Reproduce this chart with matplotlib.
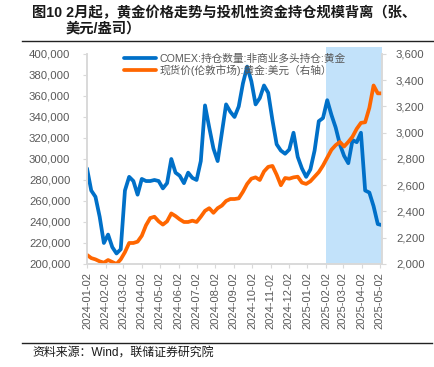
import pandas as pd
import matplotlib
matplotlib.use('Agg')
import matplotlib.pyplot as plt
import matplotlib.dates as mdates

plt.rcParams['font.family'] = ['Liberation Sans', 'Noto Sans CJK SC', 'DejaVu Sans']

# weekly observations, starting Tuesday 2024-01-02
dates = pd.date_range('2024-01-02', periods=71, freq='7D')

# COMEX non-commercial long positions, gold (contracts)
comex_long = [291000, 270000, 264000, 245000, 220000, 228000, 216000, 210000, 214000, 270000,
              283000, 279000, 266000, 281000, 279000, 279000, 280000, 279000, 272000, 277000,
              300000, 287000, 284000, 277000, 287000, 282000, 280000, 298000, 351000, 330000,
              310000, 298000, 325000, 352000, 345000, 340000, 350000, 372000, 388000, 374000,
              352000, 358000, 370000, 363000, 337000, 314000, 308000, 305000, 309000, 325000,
              302000, 291000, 283000, 290000, 308000, 336000, 339000, 356000, 342000, 330000,
              314000, 303000, 296000, 318000, 316000, 325000, 270000, 268000, 255000, 238000,
              237000]

# London spot gold, USD/oz (right axis)
gold_spot = [2069, 2045, 2035, 2020, 2010, 2030, 2015, 2000, 2035, 2090,
             2160, 2160, 2170, 2215, 2295, 2350, 2360, 2325, 2300, 2325,
             2385, 2365, 2340, 2320, 2320, 2330, 2320, 2360, 2405, 2425,
             2390, 2425, 2445, 2480, 2495, 2495, 2500, 2550, 2610, 2650,
             2660, 2640, 2705, 2740, 2747, 2680, 2600, 2655, 2650, 2660,
             2665, 2620, 2610, 2630, 2665, 2700, 2750, 2810, 2870, 2905,
             2930, 2895, 2930, 2970, 3030, 3075, 3080, 3190, 3360, 3300,
             3300]

shade_start = '2025-02-02'

label_comex = 'COMEX:持仓数量:非商业多头持仓:黄金'
label_gold = '现货价(伦敦市场):黄金:美元（右轴）'
title_1 = '图10 2月起，黄金价格走势与投机性资金持仓规模背离（张、'
title_2 = '美元/盎司）'
source = '资料来源：Wind，联储证券研究院'

blue = '#0070C8'
orange = '#FF6600'
grey = '#595959'
spine_c = '#D9D9D9'

fig = plt.figure(figsize=(4.34, 3.67), dpi=100)
ax = fig.add_axes([0.2005, 0.2807, 0.6797, 0.5722])
ax2 = ax.twinx()

# shaded period since February
ax.axvspan(pd.Timestamp(shade_start), dates[-1], ymin=0, ymax=1.033,
           color='#C2E2FA', lw=0, clip_on=False, zorder=0)

l1, = ax.plot(dates, comex_long, color=blue, lw=2.7,
              solid_capstyle='round', solid_joinstyle='round')
l2, = ax2.plot(dates, gold_spot, color=orange, lw=2.7,
               solid_capstyle='round', solid_joinstyle='round')

ax.set_xlim(dates[0], dates[-1])
ax.set_ylim(200000, 400000)
ax.set_yticks(range(200000, 400001, 20000))
ax.yaxis.set_major_formatter(matplotlib.ticker.FuncFormatter(lambda v, p: f'{int(v):,}'))
ax2.set_ylim(2000, 3600)
ax2.set_yticks(range(2000, 3601, 200))
ax2.yaxis.set_major_formatter(matplotlib.ticker.FuncFormatter(lambda v, p: f'{int(v):,}'))

ax.xaxis.set_major_locator(mdates.MonthLocator(bymonthday=2))
ax.xaxis.set_major_formatter(mdates.DateFormatter('%Y-%m-%d'))
for lab in ax.get_xticklabels():
    lab.set_rotation(90)

for a in (ax, ax2):
    a.tick_params(axis='both', colors=spine_c, labelcolor=grey, labelsize=8.2, length=3, width=0.8)
    a.spines['top'].set_visible(False)
    for s in ('left', 'right', 'bottom'):
        a.spines[s].set_color(spine_c)
        a.spines[s].set_linewidth(1.2)
ax.tick_params(axis='x', labelsize=8, pad=3)
ax.tick_params(axis='y', pad=9)
ax2.tick_params(axis='y', pad=7)

leg = ax2.legend([l1, l2], [label_comex, label_gold], loc='upper left',
                 bbox_to_anchor=(0.1, 1.04), frameon=False, fontsize=7.7,
                 handlelength=3.0, handletextpad=0.3, labelspacing=0.12,
                 borderpad=0.2, labelcolor=grey)

# title, rules and source note
fig.text(0.074, 0.965, title_1, fontsize=10.3, fontweight='bold',
         va='center', ha='left', color='#1a1a1a')
fig.text(0.150, 0.921, title_2, fontsize=10.3, fontweight='bold',
         va='center', ha='left', color='#1a1a1a')
fig.add_artist(plt.Line2D([22 / 434, 1.0], [1 - 41 / 367] * 2, color='#222222', lw=1))
fig.add_artist(plt.Line2D([22 / 434, 432 / 434], [1 - 343 / 367] * 2, color='#222222', lw=1))
fig.text(0.074, 1 - 353 / 367, source, fontsize=8.6, va='center', ha='left', color='#1a1a1a')

plt.savefig('out.png', dpi=100)
